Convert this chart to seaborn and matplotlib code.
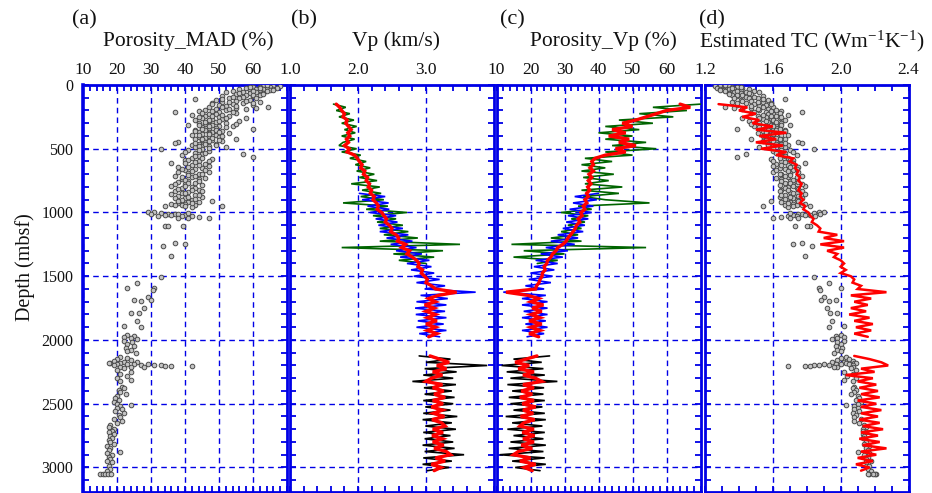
import numpy as np
import pandas as pd
import matplotlib
matplotlib.use("Agg")
import matplotlib.pyplot as plt
import seaborn as sns
from matplotlib.ticker import MultipleLocator, FixedLocator

# ---------------- data ----------------
# depth sampling of the downhole logs (m)
depth_upper = np.arange(150, 2000, 25)      # 150 ... 1975
depth_lower = np.arange(2125, 3050, 25)     # 2125 ... 3025
depth_green = np.arange(150, 1425, 25)      # 150 ... 1400
depth_blue = np.arange(850, 2000, 25)       # 850 ... 1975

# (b) Vp (km/s)
vp_red_upper = [1.68, 1.73, 1.76, 1.80, 1.78, 1.84, 1.82, 1.86, 1.90, 1.85,
                1.88, 1.83, 1.86, 1.80, 1.87, 1.84, 1.95, 1.99, 2.02, 2.06,
                2.04, 2.10, 2.08, 2.14, 2.12, 2.17, 2.15, 2.20, 2.18, 2.24,
                2.22, 2.27, 2.30, 2.28, 2.35, 2.38, 2.42, 2.40, 2.46, 2.50,
                2.48, 2.56, 2.60, 2.58, 2.70, 2.64, 2.76, 2.72, 2.80, 2.86,
                2.90, 2.88, 2.95, 2.93, 2.98, 3.02, 3.00, 3.08, 3.14, 3.45,
                3.18, 3.04, 3.14, 2.98, 3.12, 3.00, 3.14, 3.02, 3.16, 3.00,
                3.14, 3.02, 3.16, 3.04]
vp_red_lower = [3.06, 3.20, 3.34, 3.16, 3.30, 3.10, 3.24, 3.08, 3.00, 3.24,
                3.10, 3.26, 3.12, 3.28, 3.10, 3.25, 3.08, 3.24, 3.11, 3.27,
                3.09, 3.23, 3.28, 3.10, 3.25, 3.09, 3.24, 3.10, 3.26, 3.12,
                3.30, 3.36, 3.14, 3.28, 3.08, 3.22, 3.12]
vp_green = [1.64, 1.82, 1.68, 1.88, 1.72, 1.94, 1.76, 1.98, 1.80, 1.96,
            1.76, 1.95, 1.78, 1.72, 1.98, 1.76, 2.04, 1.88, 2.12, 1.96,
            2.18, 1.98, 2.24, 2.02, 2.28, 1.90, 2.32, 2.06, 2.34, 2.04,
            2.38, 1.78, 2.44, 2.12, 2.72, 2.22, 2.56, 2.28, 2.66, 2.32,
            2.74, 2.38, 2.88, 2.32, 3.50, 1.76, 3.25, 2.52, 3.12, 2.60,
            3.00]
vp_blue = [2.02, 2.40, 2.06, 2.45, 2.14, 2.46, 2.18, 2.56, 2.26, 2.58,
           2.30, 2.66, 2.32, 2.74, 2.42, 2.80, 2.48, 2.86, 2.56, 2.94,
           2.62, 3.05, 2.72, 3.08, 2.78, 3.12, 2.82, 3.20, 2.86, 3.28,
           2.98, 3.73, 2.92, 3.32, 2.86, 3.30, 2.84, 3.28, 2.85, 3.30,
           2.88, 3.26, 2.86, 3.30, 2.90, 3.20]
vp_black = [2.90, 3.36, 3.00, 3.90, 2.98, 3.45, 2.96, 3.40, 2.80, 3.44,
            2.97, 3.38, 2.98, 3.42, 2.96, 3.40, 2.99, 3.36, 2.96, 3.46,
            2.95, 3.38, 2.99, 3.44, 2.96, 3.36, 2.98, 3.40, 2.95, 3.42,
            2.98, 3.56, 2.96, 3.38, 2.95, 3.34, 3.02]

# (c) Porosity from Vp (%)
phi_red_upper = [64, 67, 60, 57, 54, 51, 47, 50, 44, 48,
                 43, 49, 46, 51, 45, 48, 42, 39, 38, 38.5,
                 37.5, 38.5, 37.2, 38, 37, 37.8, 36.8, 37.4, 36.5, 37,
                 36, 36.6, 35.5, 36, 34.8, 35.2, 34, 34.5, 33.5, 33.2,
                 32.5, 31.8, 31, 30.5, 29.5, 28, 27.5, 26.5, 26, 25,
                 24.8, 24, 24.3, 23.5, 23.4, 22.8, 22.5, 21.8, 21.5, 12.8,
                 19.2, 22.4, 20.1, 23.8, 20.5, 23.3, 20.1, 22.8, 19.6, 23.3,
                 20.1, 22.8, 19.6, 22.4]
phi_red_lower = [21.9, 18.7, 15.5, 19.6, 16.4, 21, 17.8, 21.5, 23.3, 17.8,
                 21, 17.3, 20.5, 16.9, 21, 17.6, 21.5, 17.8, 20.8, 17.1,
                 21.2, 18, 16.9, 21, 17.6, 21.2, 17.8, 21, 17.3, 20.5,
                 16.4, 15, 20, 16.9, 21.5, 18.2, 20.5]
phi_green = [70, 56, 66, 52, 62, 46, 56, 42, 52, 40,
             50, 42, 54, 44, 57, 42, 50, 36, 44, 35,
             42, 35, 44.5, 35.5, 43, 36, 47, 35, 46, 35.5,
             42, 55, 34, 38, 29, 37, 32, 36, 31, 35,
             29, 34, 26, 35, 14.4, 54, 18, 30, 15, 28,
             22]
phi_blue = [40, 33, 39.5, 32.5, 38.5, 31.5, 38, 31, 37, 30.5,
            36, 29.5, 35.5, 28, 34, 26, 33, 24.5, 31, 23,
            29.5, 21.5, 28, 21, 27, 20, 26.5, 19.5, 26, 18.5,
            24, 12, 24.5, 17.5, 25, 17.5, 25, 18, 25, 17.5,
            24.5, 18.5, 25, 17.5, 24, 19]
phi_black = [25.6, 15, 23.3, 11.5, 23.8, 13, 24.2, 14.1, 27.9, 13.2,
             24, 14.6, 23.8, 13.6, 24.2, 14.1, 23.5, 15, 24.2, 12.7,
             24.5, 14.6, 23.5, 13.2, 24.2, 15, 23.8, 14.1, 24.5, 13.6,
             23.8, 11, 24.2, 14.6, 24.5, 15.5, 22.8]

# (d) Estimated thermal conductivity (W/m/K)
tc_red_upper = [1.28, 1.45, 1.40, 1.50, 1.42, 1.52, 1.48, 1.60, 1.50, 1.68,
                1.52, 1.62, 1.50, 1.66, 1.53, 1.68, 1.62, 1.72, 1.70, 1.74,
                1.73, 1.75, 1.74, 1.76, 1.75, 1.77, 1.76, 1.75, 1.77, 1.76,
                1.78, 1.76, 1.79, 1.78, 1.81, 1.82, 1.84, 1.83, 1.86, 1.88,
                1.87, 1.98, 1.90, 2.02, 1.88, 2.02, 1.92, 1.98, 1.96, 2.00,
                2.02, 2.00, 2.03, 2.00, 2.06, 2.08, 2.07, 2.12, 2.10, 2.27,
                2.06, 2.18, 2.08, 2.16, 2.06, 2.15, 2.05, 2.17, 2.08, 2.19,
                2.09, 2.18, 2.08, 2.16]
tc_red_lower = [2.08, 2.17, 2.24, 2.28, 2.12, 2.20, 2.03, 2.19, 2.10, 2.21,
                2.11, 2.22, 2.12, 2.23, 2.10, 2.21, 2.12, 2.24, 2.12, 2.22,
                2.11, 2.23, 2.13, 2.25, 2.12, 2.22, 2.11, 2.23, 2.13, 2.27,
                2.12, 2.21, 2.10, 2.19, 2.09, 2.17, 2.12]

# MAD core measurements: depth (m), porosity (%), estimated TC
mad_depth = [5, 8, 10, 12, 15, 18, 20, 22, 25, 28,
             30, 33, 35, 38, 40, 43, 45, 48, 50, 53,
             55, 58, 60, 65, 70, 75, 80, 85, 90, 95,
             100, 105, 110, 115, 120, 125, 130, 135, 140, 145,
             150, 155, 160, 165, 170, 175, 180, 185, 190, 195,
             200, 205, 210, 215, 220, 225, 230, 235, 240, 245,
             250, 255, 260, 265, 270, 275, 280, 285, 290, 295,
             300, 305, 310, 315, 320, 325, 330, 335, 340, 345,
             350, 355, 360, 365, 370, 375, 380, 385, 390, 395,
             400, 405, 410, 415, 420, 425, 430, 435, 440, 445,
             450, 455, 460, 465, 470, 475, 480, 485, 490, 500,
             505, 510, 520, 530, 540, 545, 550, 560, 565, 570,
             580, 590, 600, 610, 620, 630, 640, 650, 660, 670,
             680, 690, 700, 710, 720, 730, 740, 750, 760, 770,
             780, 790, 800, 810, 820, 830, 840, 850, 860, 870,
             880, 885, 890, 900, 905, 910, 915, 920, 925, 930,
             935, 940, 945, 948, 950, 955, 995, 1000, 1005, 1008,
             1010, 1012, 1015, 1018, 1020, 1022, 1025, 1028, 1030, 1035,
             1040, 1045, 1047, 1104, 1106, 1108, 1242, 1244, 1260, 1340,
             1503, 1555, 1594, 1596, 1607, 1664, 1690, 1692, 1688, 1750,
             1789, 1791, 1850, 1893, 1895, 1958, 1965, 1975, 1985, 1995,
             2005, 2015, 2030, 2045, 2060, 2075, 2090, 2105, 2130, 2140,
             2150, 2160, 2165, 2170, 2175, 2178, 2180, 2182, 2185, 2188,
             2190, 2192, 2195, 2197, 2199, 2200, 2202, 2204, 2206, 2208,
             2210, 2212, 2220, 2235, 2250, 2265, 2280, 2295, 2310, 2325,
             2365, 2380, 2395, 2410, 2425, 2440, 2455, 2470, 2485, 2500,
             2510, 2515, 2530, 2545, 2560, 2575, 2590, 2605, 2620, 2635,
             2650, 2665, 2680, 2695, 2710, 2725, 2740, 2755, 2770, 2785,
             2800, 2815, 2830, 2845, 2860, 2875, 2890, 2905, 2920, 2935,
             2950, 2960, 2990, 3010, 3030, 3050, 3050, 3050, 3050, 3050,
             3, 14, 27, 37, 47, 62, 72, 82, 92, 102,
             112, 122, 132, 142, 152, 162, 172, 182, 192, 202,
             212, 222, 232, 242, 252, 262, 272, 282, 292, 302,
             312, 322, 332, 342, 352, 362, 372, 382, 392, 402,
             412, 422, 432, 442, 452, 462, 472, 482, 492, 512,
             525, 535, 555, 575, 585, 595, 605, 615, 625, 635,
             645, 655, 665, 675, 685, 695, 705, 715, 725, 735,
             745, 755, 765, 775, 785, 795, 805, 815, 825, 835,
             845, 855, 865, 875, 895, 912, 928, 942, 952, 1002]
mad_porosity = [66, 63, 68, 60, 65, 62, 67, 58, 64, 61,
                66, 56, 63, 59, 65, 62, 54, 60, 64, 57,
                61, 52, 63, 59, 55, 62, 58, 51, 60, 57,
                56, 53, 43, 59, 49, 55, 62, 51, 57, 48,
                54, 60, 50, 52, 64.5, 47, 55, 49, 58, 46,
                52, 44, 50, 37, 55, 47, 49, 42, 53, 46,
                50, 58, 45, 48, 51, 43, 47, 56, 49, 44,
                52, 46, 48, 41, 50, 54, 45, 47, 49, 60,
                43, 46, 51, 48, 44, 47, 53, 45, 49, 42,
                47, 50, 44, 46, 55, 43, 48, 45, 51, 38,
                46, 37, 44, 49, 42, 47, 45, 52, 43, 33,
                45, 41, 47, 43, 57, 45, 39, 44, 60, 42,
                48, 40, 44, 36, 46, 42, 38, 45, 43, 40,
                47, 41, 44, 37, 42, 46, 39, 41, 38, 43,
                40, 36, 42, 39, 44, 37, 41, 39, 43, 38,
                45, 40, 37, 42, 39, 48, 41, 44, 38, 40,
                36, 43, 39, 51, 34, 42, 29, 31, 33, 35,
                37, 38, 30, 40, 34, 36, 39, 42, 32, 44,
                38, 47, 41, 34, 35, 39.5, 37, 40, 33.4, 36,
                33, 26, 23, 31, 30.5, 29, 25, 27, 30, 28,
                24, 26.4, 26, 22, 27, 23, 25, 22, 24, 26,
                22, 24.5, 23, 25, 22.5, 24, 23, 25.5, 21, 23,
                20, 24, 19, 22, 26, 18, 21, 17.5, 25, 29,
                23, 20, 27, 31, 33, 19, 36, 34, 42, 24,
                21, 28, 22, 20, 24, 21, 23, 20, 24, 21,
                21.5, 22, 20.5, 21, 22.5, 20, 19.5, 20.5, 19, 20,
                24, 21, 20, 21.5, 19.5, 22, 20.5, 21, 19, 21.5,
                20, 18, 17.5, 19, 18.5, 17.5, 19, 18, 18.5, 17.5,
                18, 19, 17, 18, 17.5, 21, 17, 18.5, 17.5, 18,
                17, 18.5, 17.5, 18, 17, 15, 15.8, 16.5, 17.3, 18.2,
                64, 59, 62, 66, 60, 56, 63, 60, 54, 61,
                51, 58, 53, 60, 48, 55, 51, 61, 53, 48,
                54, 45, 51, 48, 44, 52, 47, 50, 46, 55,
                44, 47, 52, 45, 49, 43, 50, 47, 44, 51,
                48, 45, 50, 47, 43, 46, 49, 44, 47, 44,
                40, 46, 43, 45, 41, 47, 43, 40, 44, 47,
                41, 39, 46, 42, 38, 45, 41, 43, 39, 44,
                40, 44, 41, 37, 45, 40, 43, 38, 42, 45,
                40, 36, 44, 41, 43, 38, 42, 37, 40, 41]
mad_tc = [1.29, 1.34, 1.26, 1.39, 1.31, 1.36, 1.27, 1.42, 1.32, 1.37,
          1.29, 1.46, 1.34, 1.41, 1.31, 1.36, 1.49, 1.39, 1.32, 1.44,
          1.37, 1.52, 1.34, 1.41, 1.47, 1.36, 1.42, 1.54, 1.39, 1.44,
          1.46, 1.51, 1.67, 1.41, 1.57, 1.47, 1.36, 1.54, 1.44, 1.59,
          1.49, 1.39, 1.56, 1.52, 1.32, 1.60, 1.47, 1.57, 1.42, 1.62,
          1.52, 1.65, 1.56, 1.77, 1.47, 1.60, 1.57, 1.69, 1.51, 1.62,
          1.56, 1.42, 1.64, 1.59, 1.54, 1.67, 1.60, 1.46, 1.57, 1.65,
          1.52, 1.62, 1.59, 1.70, 1.56, 1.49, 1.64, 1.60, 1.57, 1.39,
          1.67, 1.62, 1.54, 1.59, 1.65, 1.60, 1.51, 1.64, 1.57, 1.69,
          1.60, 1.56, 1.65, 1.62, 1.47, 1.67, 1.59, 1.64, 1.54, 1.75,
          1.62, 1.77, 1.65, 1.57, 1.69, 1.60, 1.64, 1.52, 1.67, 1.84,
          1.64, 1.70, 1.60, 1.67, 1.44, 1.64, 1.74, 1.65, 1.39, 1.69,
          1.59, 1.72, 1.65, 1.79, 1.62, 1.69, 1.75, 1.64, 1.67, 1.72,
          1.60, 1.70, 1.65, 1.77, 1.69, 1.62, 1.74, 1.70, 1.75, 1.67,
          1.72, 1.79, 1.69, 1.74, 1.65, 1.77, 1.70, 1.74, 1.67, 1.75,
          1.64, 1.72, 1.77, 1.69, 1.74, 1.59, 1.70, 1.65, 1.75, 1.72,
          1.79, 1.67, 1.74, 1.54, 1.82, 1.69, 1.90, 1.87, 1.84, 1.80,
          1.77, 1.75, 1.88, 1.72, 1.82, 1.79, 1.74, 1.69, 1.85, 1.65,
          1.75, 1.60, 1.70, 1.82, 1.80, 1.73, 1.77, 1.72, 1.83, 1.79,
          1.84, 1.93, 2.00, 1.87, 1.88, 1.90, 1.97, 1.93, 1.885, 1.92,
          1.98, 1.94, 1.95, 2.02, 1.93, 2.00, 1.97, 2.02, 1.98, 1.95,
          2.02, 1.98, 2.00, 1.97, 2.01, 1.98, 2.00, 1.96, 2.03, 2.00,
          2.05, 1.98, 2.07, 2.02, 1.95, 2.08, 2.03, 2.09, 1.97, 1.90,
          2.00, 2.05, 1.93, 1.87, 1.84, 2.07, 1.79, 1.82, 1.69, 1.98,
          2.07, 1.96, 2.06, 2.09, 2.02, 2.07, 2.04, 2.09, 2.02, 2.07,
          2.08, 2.07, 2.09, 2.08, 2.06, 2.10, 2.11, 2.09, 2.12, 2.10,
          2.03, 2.08, 2.10, 2.08, 2.11, 2.07, 2.09, 2.08, 2.12, 2.08,
          2.11, 2.14, 2.15, 2.13, 2.13, 2.15, 2.13, 2.14, 2.13, 2.15,
          2.15, 2.14, 2.17, 2.15, 2.16, 2.10, 2.17, 2.14, 2.16, 2.15,
          2.18, 2.15, 2.17, 2.16, 2.18, 2.21, 2.20, 2.19, 2.17, 2.16,
          1.32, 1.41, 1.36, 1.29, 1.39, 1.46, 1.34, 1.39, 1.49, 1.37,
          1.54, 1.42, 1.51, 1.39, 1.59, 1.47, 1.54, 1.37, 1.51, 1.59,
          1.49, 1.64, 1.54, 1.59, 1.65, 1.52, 1.60, 1.56, 1.62, 1.47,
          1.65, 1.60, 1.52, 1.64, 1.57, 1.67, 1.56, 1.60, 1.65, 1.54,
          1.59, 1.64, 1.56, 1.60, 1.67, 1.62, 1.57, 1.65, 1.60, 1.65,
          1.72, 1.62, 1.67, 1.64, 1.70, 1.60, 1.67, 1.72, 1.65, 1.60,
          1.70, 1.74, 1.62, 1.69, 1.75, 1.64, 1.70, 1.67, 1.74, 1.65,
          1.72, 1.65, 1.70, 1.77, 1.64, 1.72, 1.67, 1.75, 1.69, 1.64,
          1.72, 1.79, 1.65, 1.70, 1.67, 1.75, 1.69, 1.77, 1.72, 1.70]

panel_tags = ["(a)", "(b)", "(c)", "(d)"]
panel_titles = ["Porosity_MAD (%)", "Vp (km/s)", "Porosity_Vp (%)",
                r"Estimated TC (Wm$^{-1}$K$^{-1}$)"]
ticks_a = [10, 20, 30, 40, 50, 60]
ticks_b = [1.0, 2.0, 3.0]
ticks_c = [10, 20, 30, 40, 50, 60]
ticks_d = [1.2, 1.6, 2.0, 2.4]
depth_ticks = [0, 500, 1000, 1500, 2000, 2500, 3000]

# ---------------- style ----------------
sns.set_theme(style="white")
plt.rcParams["font.family"] = ["Liberation Serif", "DejaVu Serif"]
plt.rcParams["mathtext.fontset"] = "custom"
plt.rcParams["mathtext.rm"] = "Liberation Serif"
plt.rcParams["mathtext.it"] = "Liberation Serif:italic"
plt.rcParams["mathtext.bf"] = "Liberation Serif:bold"

BLUE = "#0000e6"
GREEN = "#006400"
LBLUE = "#0000ff"
RED = "#ff0000"

W, H = 932, 493
fig = plt.figure(figsize=(W / 100, H / 100), dpi=100)
TOP, BOT = 85, 491.7


def add_ax(left, right):
    return fig.add_axes([left / W, 1 - BOT / H, (right - left) / W, (BOT - TOP) / H])


axes = [add_ax(83, 287), add_ax(290, 494), add_ax(496.5, 700.5), add_ax(705, 908.5)]


def trace(ax, vals, depth, color, lw, z):
    df = pd.DataFrame({"v": vals, "d": depth})
    sns.lineplot(data=df, x="v", y="d", orient="y", sort=False, estimator=None,
                 color=color, linewidth=lw, ax=ax, zorder=z,
                 solid_joinstyle="miter")


def dots(ax, xs, ys):
    df = pd.DataFrame({"x": xs, "y": ys})
    sns.scatterplot(data=df, x="x", y="y", ax=ax, s=11, marker="o",
                    facecolor="#c4c4c4", edgecolor="#4a4a4a", linewidth=0.7, zorder=3)


# (a)
dots(axes[0], mad_porosity, mad_depth)
# (b)
trace(axes[1], vp_green, depth_green, GREEN, 1.2, 3)
trace(axes[1], vp_blue, depth_blue, LBLUE, 1.2, 4)
trace(axes[1], vp_black, depth_lower, "black", 1.2, 4)
trace(axes[1], vp_red_upper, depth_upper, RED, 2.4, 5)
trace(axes[1], vp_red_lower, depth_lower, RED, 2.4, 5)
# (c)
trace(axes[2], phi_green, depth_green, GREEN, 1.2, 3)
trace(axes[2], phi_blue, depth_blue, LBLUE, 1.2, 4)
trace(axes[2], phi_black, depth_lower, "black", 1.2, 4)
trace(axes[2], phi_red_upper, depth_upper, RED, 2.4, 5)
trace(axes[2], phi_red_lower, depth_lower, RED, 2.4, 5)
# (d)
dots(axes[3], mad_tc, mad_depth)
trace(axes[3], tc_red_upper, depth_upper, RED, 1.8, 5)
trace(axes[3], tc_red_lower, depth_lower, RED, 1.8, 5)

specs = [((10, 70), ticks_a, 2, ["10", "20", "30", "40", "50", "60"]),
         ((1.0, 4.0), ticks_b, 0.2, ["1.0", "2.0", "3.0"]),
         ((10, 70), ticks_c, 2, ["10", "20", "30", "40", "50", "60"]),
         ((1.2, 2.4), ticks_d, 0.1, ["1.2", "1.6", "2.0", "2.4"])]

for i, (ax, (xlim, majors, minor, labels)) in enumerate(zip(axes, specs)):
    ax.set_xlim(*xlim)
    ax.set_ylim(3190, 0)
    ax.set_xlabel("")
    ax.set_ylabel("")
    ax.xaxis.set_major_locator(FixedLocator(majors))
    ax.set_xticklabels(labels)
    ax.xaxis.set_minor_locator(MultipleLocator(minor))
    ax.yaxis.set_major_locator(FixedLocator(depth_ticks))
    ax.yaxis.set_minor_locator(MultipleLocator(100))
    ax.tick_params(which="both", direction="in", top=True, bottom=True,
                   left=True, right=True, color=BLUE, width=1.3, length=4.5)
    ax.tick_params(axis="x", labeltop=True, labelbottom=False, labelsize=12.5,
                   pad=5, labelcolor="#111111")
    ax.tick_params(axis="y", labelleft=(i == 0), labelright=False, labelsize=11.5,
                   pad=7, labelcolor="#111111")
    ax.grid(True, which="major", color=BLUE, linestyle=(0, (4, 3)), linewidth=1.0)
    ax.set_axisbelow(True)
    ax.set_facecolor("white")
    for s in ax.spines.values():
        s.set_color(BLUE)
        s.set_linewidth(2.0)
    if ax.get_legend() is not None:
        ax.get_legend().remove()

axes[0].spines["left"].set_linewidth(2.6)

tag_x = [84, 304, 512, 712]
title_x = [188, 396, 603, 812]
for t, tx, ttl, ttx in zip(panel_tags, tag_x, panel_titles, title_x):
    fig.text(tx / W, 1 - 20 / H, t, ha="center", va="center", fontsize=16, color="#111111")
    fig.text(ttx / W, 1 - 41 / H, ttl, ha="center", va="center", fontsize=15.5, color="#111111")

fig.text(25 / W, 1 - 267 / H, "Depth (mbsf)", rotation=90, ha="center", va="center",
         fontsize=14.5, color="#111111")

fig.savefig("out.png", dpi=100)
